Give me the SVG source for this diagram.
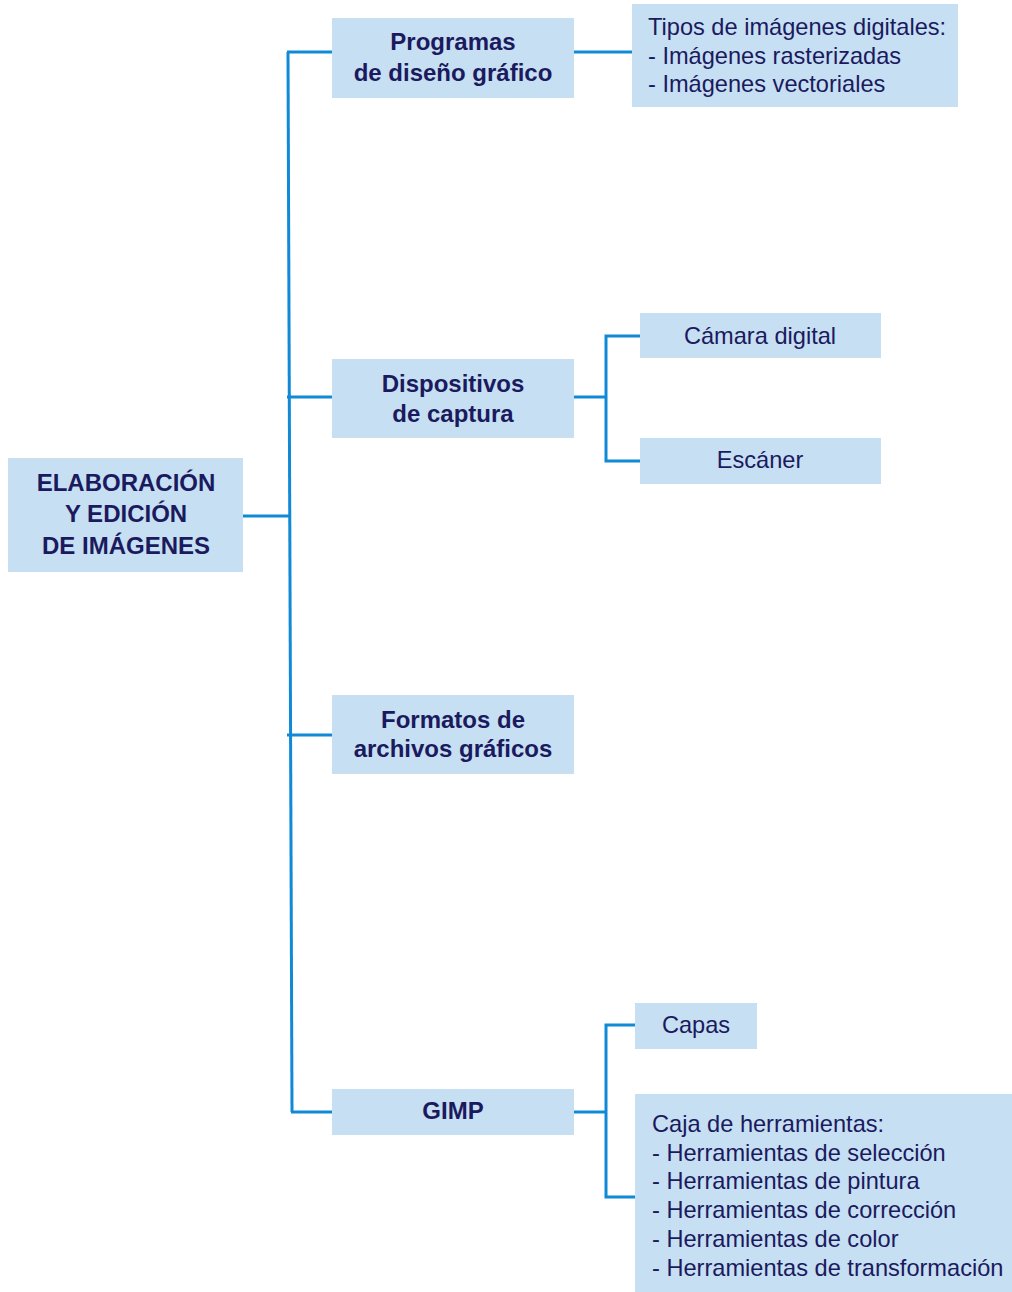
<svg xmlns="http://www.w3.org/2000/svg" width="1012" height="1292" viewBox="0 0 1012 1292">
  <style>
    .box { fill: #c6dff2; }
    .t { font-family: "Liberation Sans", Arial, sans-serif; font-size: 23.6px; fill: #1b1a5e; }
    .b { font-family: "Liberation Sans", Arial, sans-serif; font-size: 24px; font-weight: bold; fill: #1b1a5e; }
    .c { text-anchor: middle; }
    .wire { fill: none; stroke: #1089d6; stroke-width: 3; }
  </style>
  <rect width="1012" height="1292" fill="#ffffff"/>

  <!-- connectors -->
  <g id="connectors">
    <line class="wire" x1="288" y1="52" x2="292" y2="1112"/>
    <line class="wire" x1="287" y1="52" x2="332" y2="52"/>
    <line class="wire" x1="574" y1="52" x2="632" y2="52"/>
    <line class="wire" x1="243" y1="516" x2="289" y2="516"/>
    <line class="wire" x1="287" y1="397" x2="332" y2="397"/>
    <line class="wire" x1="287" y1="735" x2="332" y2="735"/>
    <line class="wire" x1="291" y1="1112" x2="332" y2="1112"/>
    <!-- capture devices branch -->
    <line class="wire" x1="574" y1="397" x2="606" y2="397"/>
    <polyline class="wire" points="640,336 606,336 606,461 640,461"/>
    <!-- GIMP branch -->
    <line class="wire" x1="574" y1="1112" x2="606" y2="1112"/>
    <polyline class="wire" points="635,1025 606,1025 606,1197 635,1197"/>
  </g>

  <g id="root">
    <rect class="box" x="8" y="458" width="235" height="114"/>
    <text class="b c" x="126" y="491">ELABORACIÓN</text>
    <text class="b c" x="126" y="522">Y EDICIÓN</text>
    <text class="b c" x="126" y="554">DE IMÁGENES</text>
  </g>

  <g id="programas">
    <rect class="box" x="332" y="18" width="242" height="80"/>
    <text class="b c" x="453" y="50">Programas</text>
    <text class="b c" x="453" y="81">de diseño gráfico</text>
  </g>

  <g id="tipos">
    <rect class="box" x="632" y="4" width="326" height="103"/>
    <text class="t" x="648" y="35">Tipos de imágenes digitales:</text>
    <text class="t" x="648" y="64">- Imágenes rasterizadas</text>
    <text class="t" x="648" y="92">- Imágenes vectoriales</text>
  </g>

  <g id="dispositivos">
    <rect class="box" x="332" y="359" width="242" height="79"/>
    <text class="b c" x="453" y="392">Dispositivos</text>
    <text class="b c" x="453" y="422">de captura</text>
  </g>

  <g id="camara">
    <rect class="box" x="640" y="313" width="241" height="45"/>
    <text class="t c" x="760" y="344">Cámara digital</text>
  </g>

  <g id="escaner">
    <rect class="box" x="640" y="438" width="241" height="46"/>
    <text class="t c" x="760" y="468">Escáner</text>
  </g>

  <g id="formatos">
    <rect class="box" x="332" y="695" width="242" height="79"/>
    <text class="b c" x="453" y="728">Formatos de</text>
    <text class="b c" x="453" y="757">archivos gráficos</text>
  </g>

  <g id="gimp">
    <rect class="box" x="332" y="1089" width="242" height="46"/>
    <text class="b c" x="453" y="1119">GIMP</text>
  </g>

  <g id="capas">
    <rect class="box" x="635" y="1003" width="122" height="46"/>
    <text class="t c" x="696" y="1033">Capas</text>
  </g>

  <g id="caja">
    <rect class="box" x="635" y="1094" width="377" height="198"/>
    <text class="t" x="652" y="1132">Caja de herramientas:</text>
    <text class="t" x="652" y="1161">- Herramientas de selección</text>
    <text class="t" x="652" y="1189">- Herramientas de pintura</text>
    <text class="t" x="652" y="1218">- Herramientas de corrección</text>
    <text class="t" x="652" y="1247">- Herramientas de color</text>
    <text class="t" x="652" y="1276">- Herramientas de transformación</text>
  </g>
</svg>
